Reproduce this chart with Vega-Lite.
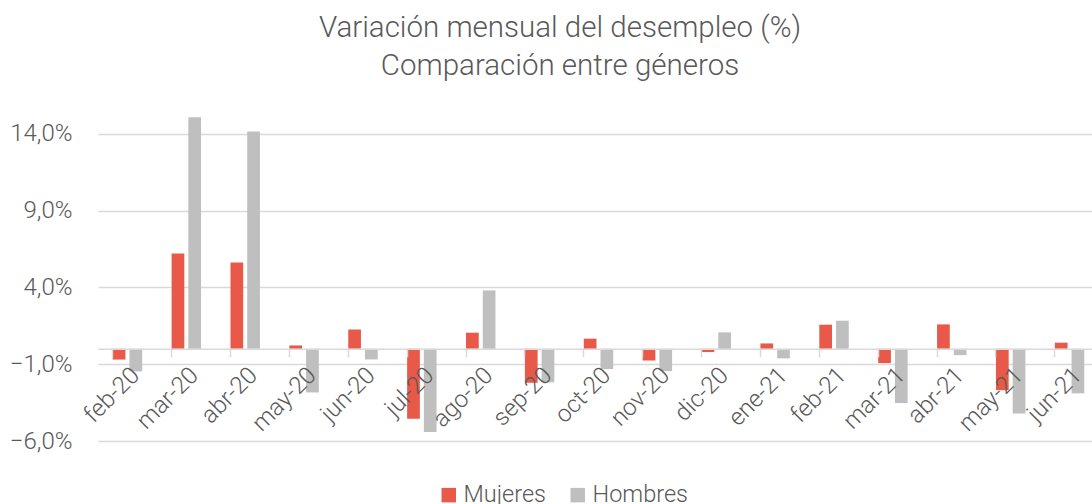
{
  "$schema": "https://vega.github.io/schema/vega-lite/v6.json",
  "width": 994,
  "height": 338,
  "autosize": {"type": "none"},
  "padding": {"left": 98, "top": 103, "right": 0, "bottom": 63},
  "background": "white",
  "title": {
    "text": ["Variación mensual del desempleo (%)", "Comparación entre géneros"],
    "fontSize": 29.5,
    "font": "Roboto",
    "fontWeight": 300,
    "color": "#595959",
    "lineHeight": 38,
    "anchor": "middle",
    "frame": "group",
    "dx": -35,
    "offset": 22
  },
  "data": {
    "values": [
      {"mes": "feb-20", "genero": "Mujeres", "valor": -0.7},
      {"mes": "feb-20", "genero": "Hombres", "valor": -1.47},
      {"mes": "mar-20", "genero": "Mujeres", "valor": 6.21},
      {"mes": "mar-20", "genero": "Hombres", "valor": 15.08},
      {"mes": "abr-20", "genero": "Mujeres", "valor": 5.62},
      {"mes": "abr-20", "genero": "Hombres", "valor": 14.15},
      {"mes": "may-20", "genero": "Mujeres", "valor": 0.22},
      {"mes": "may-20", "genero": "Hombres", "valor": -2.84},
      {"mes": "jun-20", "genero": "Mujeres", "valor": 1.26},
      {"mes": "jun-20", "genero": "Hombres", "valor": -0.69},
      {"mes": "jul-20", "genero": "Mujeres", "valor": -4.55},
      {"mes": "jul-20", "genero": "Hombres", "valor": -5.42},
      {"mes": "ago-20", "genero": "Mujeres", "valor": 1.05},
      {"mes": "ago-20", "genero": "Hombres", "valor": 3.8},
      {"mes": "sep-20", "genero": "Mujeres", "valor": -2.21},
      {"mes": "sep-20", "genero": "Hombres", "valor": -2.18},
      {"mes": "oct-20", "genero": "Mujeres", "valor": 0.66},
      {"mes": "oct-20", "genero": "Hombres", "valor": -1.32},
      {"mes": "nov-20", "genero": "Mujeres", "valor": -0.76},
      {"mes": "nov-20", "genero": "Hombres", "valor": -1.45},
      {"mes": "dic-20", "genero": "Mujeres", "valor": -0.21},
      {"mes": "dic-20", "genero": "Hombres", "valor": 1.07},
      {"mes": "ene-21", "genero": "Mujeres", "valor": 0.35},
      {"mes": "ene-21", "genero": "Hombres", "valor": -0.62},
      {"mes": "feb-21", "genero": "Mujeres", "valor": 1.57},
      {"mes": "feb-21", "genero": "Hombres", "valor": 1.83},
      {"mes": "mar-21", "genero": "Mujeres", "valor": -0.93},
      {"mes": "mar-21", "genero": "Hombres", "valor": -3.53},
      {"mes": "abr-21", "genero": "Mujeres", "valor": 1.59},
      {"mes": "abr-21", "genero": "Hombres", "valor": -0.41},
      {"mes": "may-21", "genero": "Mujeres", "valor": -2.69},
      {"mes": "may-21", "genero": "Hombres", "valor": -4.21},
      {"mes": "jun-21", "genero": "Mujeres", "valor": 0.4},
      {"mes": "jun-21", "genero": "Hombres", "valor": -2.9}
    ]
  },
  "mark": {"type": "bar"},
  "encoding": {
    "x": {
      "field": "mes",
      "type": "nominal",
      "sort": null,
      "scale": {"paddingInner": 0.5, "paddingOuter": 0.25, "range": [0, 1001]},
      "axis": {
        "title": null,
        "offset": -92.2,
        "bandPosition": 0,
        "tickSize": 8,
        "tickColor": "#d9d9d9",
        "tickWidth": 1.5,
        "domainColor": "#d9d9d9",
        "domainWidth": 1.5,
        "labelAngle": -45,
        "labelFontSize": 24,
        "labelFont": "Roboto",
        "labelFontWeight": 300,
        "labelColor": "#595959",
        "labelPadding": 6,
        "grid": false,
        "zindex": 1
      }
    },
    "xOffset": {"field": "genero", "sort": ["Mujeres", "Hombres"], "scale": {"paddingInner": 0.24}},
    "y": {
      "field": "valor",
      "type": "quantitative",
      "scale": {"domain": [-6, 16], "nice": false, "zero": false},
      "axis": {
        "title": null,
        "values": [-6, -1, 4, 9, 14],
        "labelExpr": "replace(format(datum.value,'.1f'),'.',',') + '%'",
        "grid": true,
        "gridColor": "#d9d9d9",
        "gridWidth": 1.5,
        "domain": false,
        "ticks": false,
        "labelPadding": 26,
        "labelFontSize": 24,
        "labelFont": "Roboto",
        "labelFontWeight": 300,
        "labelColor": "#595959"
      }
    },
    "color": {
      "field": "genero",
      "type": "nominal",
      "sort": ["Mujeres", "Hombres"],
      "scale": {"domain": ["Mujeres", "Hombres"], "range": ["#E8594A", "#BFBFBF"]},
      "legend": {
        "title": null,
        "orient": "none",
        "direction": "horizontal",
        "legendX": 339,
        "legendY": 380,
        "symbolType": "square",
        "symbolSize": 210,
        "symbolStrokeWidth": 0,
        "labelFontSize": 23.5,
        "labelFont": "Roboto",
        "labelFontWeight": 300,
        "labelColor": "#595959",
        "labelOffset": 3,
        "columnPadding": 19
      }
    }
  },
  "config": {"view": {"stroke": null}}
}
